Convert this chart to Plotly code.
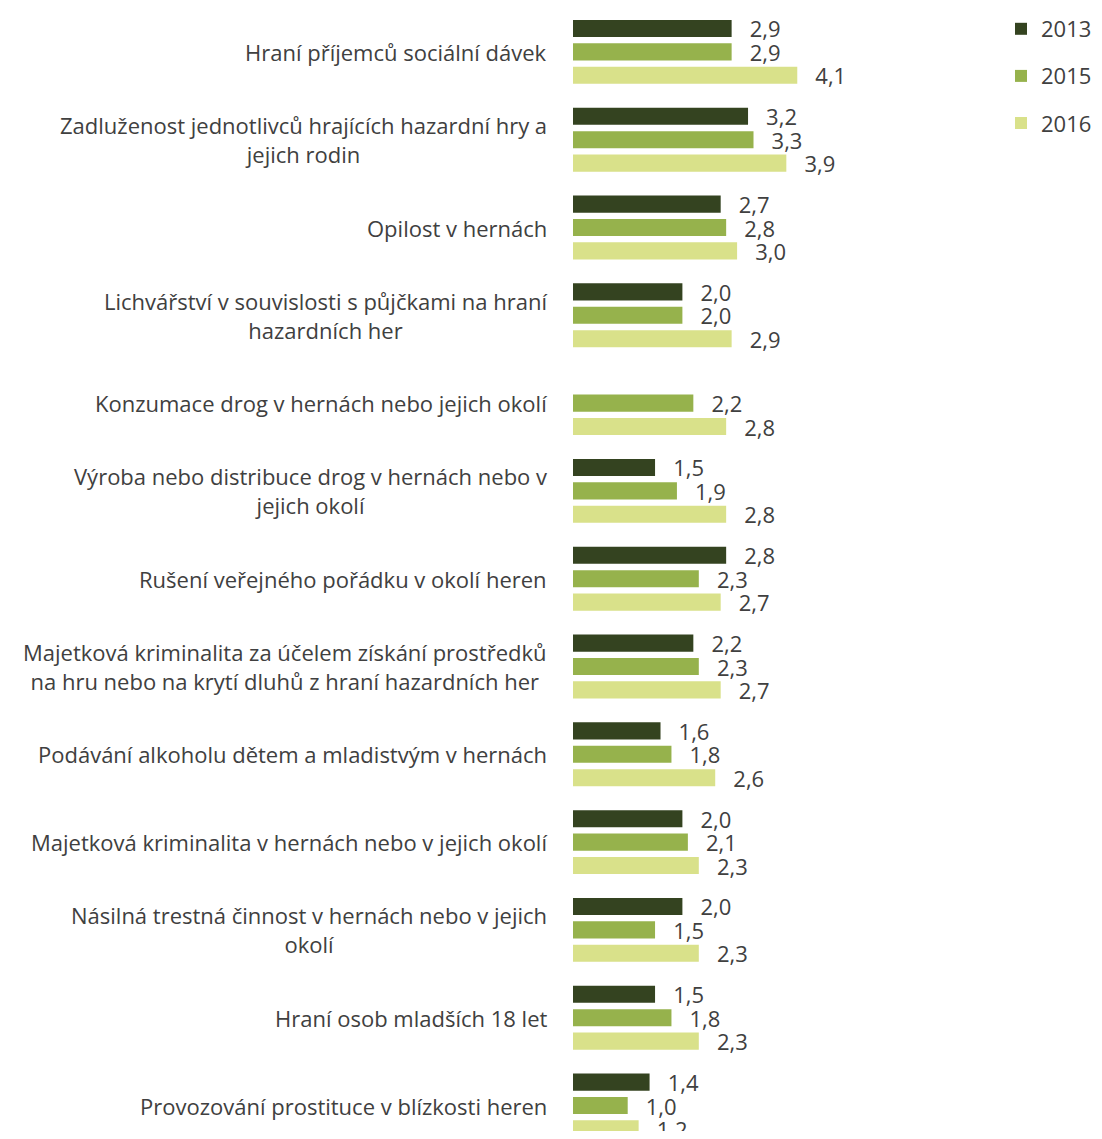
import plotly.graph_objects as go

categories = [
    "Hraní příjemců sociální dávek",
    "Zadluženost jednotlivců hrajících hazardní hry a<br>jejich rodin",
    "Opilost v hernách",
    "Lichvářství v souvislosti s půjčkami na hraní<br>hazardních her",
    "Konzumace drog v hernách nebo jejich okolí",
    "Výroba nebo distribuce drog v hernách nebo v<br>jejich okolí",
    "Rušení veřejného pořádku v okolí heren",
    "Majetková kriminalita za účelem získání prostředků<br>na hru nebo na krytí dluhů z hraní hazardních her",
    "Podávání alkoholu dětem a mladistvým v hernách",
    "Majetková kriminalita v hernách nebo v jejich okolí",
    "Násilná trestná činnost v hernách nebo v jejich<br>okolí",
    "Hraní osob mladších 18 let",
    "Provozování prostituce v blízkosti heren",
]

values_2013 = [2.9, 3.2, 2.7, 2.0, None, 1.5, 2.8, 2.2, 1.6, 2.0, 2.0, 1.5, 1.4]
values_2015 = [2.9, 3.3, 2.8, 2.0, 2.2, 1.9, 2.3, 2.3, 1.8, 2.1, 1.5, 1.8, 1.0]
values_2016 = [4.1, 3.9, 3.0, 2.9, 2.8, 2.8, 2.7, 2.7, 2.6, 2.3, 2.3, 2.3, 1.2]

series = [
    ("2013", values_2013, "#344320"),
    ("2015", values_2015, "#96B24C"),
    ("2016", values_2016, "#D9E18A"),
]

FONT = "Open Sans"
TXT = "#404040"
FS = 22
idx = list(range(len(categories)))

fig = go.Figure()
for i, (name, vals, col) in enumerate(series):
    fig.add_trace(go.Bar(
        y=idx, x=vals, name=name, orientation="h",
        marker=dict(color=col, line=dict(width=0)),
        texttemplate="\u00a0\u00a0\u2009%{x:.1f}",
        textposition="outside", constraintext="none", cliponaxis=False,
        textfont=dict(family=FONT, size=FS, color=TXT),
        legendgroup=name, hoverinfo="skip",
    ))

for i, c in enumerate(categories):
    fig.add_annotation(
        x=0, xref="paper", y=i, yref="y", text=c, showarrow=False,
        xanchor="right", yanchor="middle", align="center", xshift=-24,
        font=dict(family=FONT, size=FS, color=TXT),
    )

# the page body has an 8px margin, so the figure is sized to fit the window
W, H = 1094, 1123
ml, mr, mt, mb = 565, 102, 0, 0
pw = W - ml - mr
px_per_unit = 54.7
slot = 87.8
fig.update_layout(
    width=W, height=H, autosize=False,
    margin=dict(l=ml, r=mr, t=mt, b=mb, pad=0, autoexpand=False),
    paper_bgcolor="white", plot_bgcolor="white",
    barmode="group", bargap=0.2, bargroupgap=0.27,
    separators=", ",
    xaxis=dict(range=[0, pw / px_per_unit], visible=False, fixedrange=True),
    yaxis=dict(range=[-0.5 + (H - mt - mb) / slot, -0.5], visible=False,
               fixedrange=True),
    showlegend=True,
    legend=dict(x=(993 - ml) / pw, xanchor="left", y=1.0, yanchor="top",
                yref="container",
                font=dict(family=FONT, size=FS, color=TXT),
                tracegroupgap=15.5, bgcolor="rgba(0,0,0,0)"),
    font=dict(family=FONT, color=TXT),
)

fig.write_html("out.html")
